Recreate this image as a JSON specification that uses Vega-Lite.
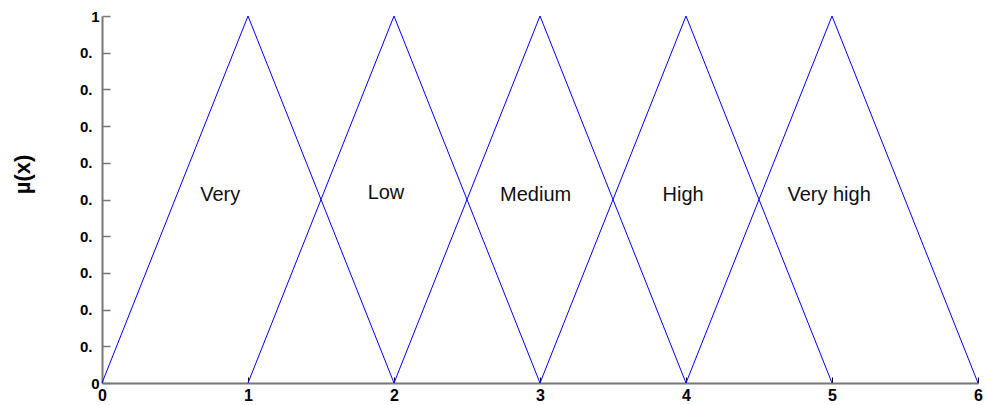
{
  "$schema": "https://vega.github.io/schema/vega-lite/v6.json",
  "width": 876,
  "height": 367,
  "autosize": "none",
  "padding": {"left": 102, "top": 16, "right": 9, "bottom": 22},
  "background": "white",
  "config": {
    "view": {"stroke": null},
    "font": "Liberation Sans",
    "axis": {"labelFont": "Liberation Sans", "labelFontWeight": "bold", "labelColor": "#000", "grid": false, "labelFlush": false, "labelOverlap": false},
    "axisX": {"labelFontSize": 16},
    "axisY": {"labelFontSize": 15}
  },
  "datasets": {
    "lines": [
      {"set": "Very low", "x": 0, "y": 0}, {"set": "Very low", "x": 1, "y": 1}, {"set": "Very low", "x": 2, "y": 0},
      {"set": "Low", "x": 1, "y": 0}, {"set": "Low", "x": 2, "y": 1}, {"set": "Low", "x": 3, "y": 0},
      {"set": "Medium", "x": 2, "y": 0}, {"set": "Medium", "x": 3, "y": 1}, {"set": "Medium", "x": 4, "y": 0},
      {"set": "High", "x": 3, "y": 0}, {"set": "High", "x": 4, "y": 1}, {"set": "High", "x": 5, "y": 0},
      {"set": "Very high", "x": 4, "y": 0}, {"set": "Very high", "x": 5, "y": 1}, {"set": "Very high", "x": 6, "y": 0}
    ],
    "labels": [
      {"label": "Very", "x": 0.81, "y": 0.512},
      {"label": "Low", "x": 1.945, "y": 0.518},
      {"label": "Medium", "x": 2.97, "y": 0.512},
      {"label": "High", "x": 3.98, "y": 0.512},
      {"label": "Very high", "x": 4.98, "y": 0.512}
    ]
  },
  "encoding": {
    "x": {
      "field": "x", "type": "quantitative",
      "scale": {"domain": [0, 6], "nice": false, "zero": false},
      "axis": {
        "title": null, "values": [0, 1, 2, 3, 4, 5, 6], "format": "d",
        "domainColor": "#777777", "domainWidth": 2, "tickColor": "#000", "tickSize": -6, "labelPadding": 10
      }
    },
    "y": {
      "field": "y", "type": "quantitative",
      "scale": {"domain": [0, 1], "nice": false},
      "axis": {
        "values": [0, 0.1, 0.2, 0.3, 0.4, 0.5, 0.6, 0.7, 0.8, 0.9, 1],
        "labelExpr": "datum.value == 0 ? '0' : (datum.value == 1 ? '1' : '0.')",
        "domainColor": "#777777", "domainWidth": 2, "tickColor": "#777777", "tickSize": -8, "tickWidth": 1.5,
        "labelPadding": {"condition": {"test": "datum.value > 0.05 && datum.value < 0.95", "value": 18}, "value": 11},
        "title": "µ(x)", "titleFont": "Liberation Sans", "titleFontSize": 22, "titleFontWeight": "bold",
        "titleColor": "#000", "titleX": -80, "titleY": 158, "titleAngle": -90, "titleBaseline": "middle", "titleAlign": "center"
      }
    }
  },
  "layer": [
    {
      "data": {"name": "lines"},
      "mark": {"type": "line", "color": "#0000ff", "strokeWidth": 1},
      "encoding": {"detail": {"field": "set"}}
    },
    {
      "data": {"name": "labels"},
      "mark": {"type": "text", "fontSize": 20, "font": "Liberation Sans", "color": "#111"},
      "encoding": {"text": {"field": "label"}}
    }
  ]
}
